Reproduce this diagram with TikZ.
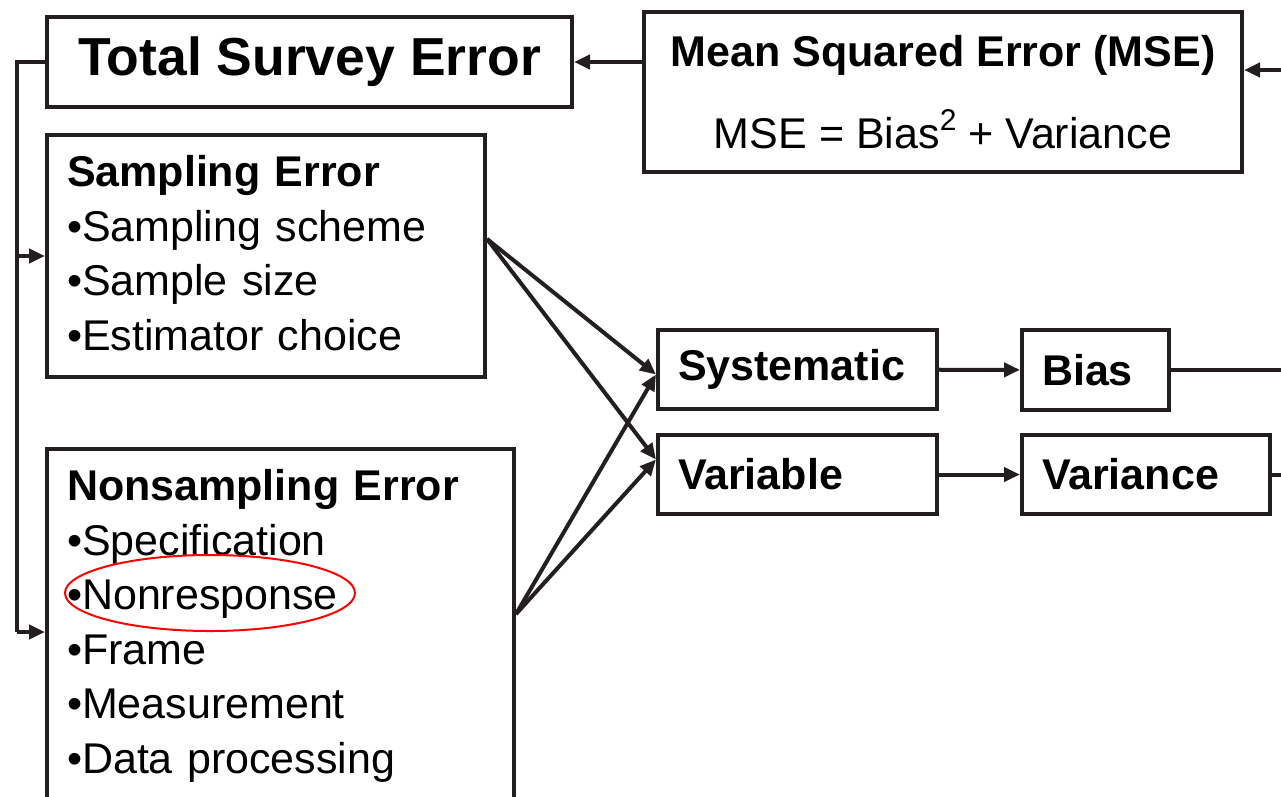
\documentclass[tikz,border=0pt]{standalone}
\usepackage{fontspec}
\setmainfont{Liberation Sans}
\usetikzlibrary{arrows.meta}
\definecolor{ink}{HTML}{231F20}
\tikzset{
	box/.style={draw=ink, line width=4pt, inner xsep=20pt, inner ysep=0pt, anchor=north west, align=left},
	wire/.style={draw=ink, line width=4pt},
	link/.style={wire, -{Triangle[length=16pt,width=14pt]}},
	txt/.style={font=\fontsize{43}{54.5}\selectfont},
}
\begin{document}
\begin{tikzpicture}[x=1pt,y=-1pt]
	\useasboundingbox (0,0) rectangle (1281,796);
	\clip (0,0) rectangle (1281,796);
	% boxes
	\node[box, align=center, minimum width=525pt, minimum height=90pt, font=\fontsize{53.5}{60}\selectfont\bfseries] (tse) at (45,15) {Total Survey Error};
	\node[box, align=center, minimum width=598pt, minimum height=160pt, font=\fontsize{43}{82}\selectfont] (mse) at (642,10)
		{\textbf{Mean Squared Error (MSE)}\\MSE = Bias\raisebox{0.42em}{\fontsize{30}{30}\selectfont 2} + Variance};
	\node[box, txt, text width=398pt, minimum height=242pt] (samp) at (45,133)
		{\textbf{Sampling Error}\\•Sampling scheme\\•Sample size\\•Estimator choice\vspace{6pt}};
	\node[box, txt, text width=427pt, minimum height=354pt] (nons) at (45,447)
		{\textbf{Nonsampling Error}\\•Specification\\•Nonresponse\\•Frame\\•Measurement\\•Data processing};
	\node[box, txt, font=\fontsize{43}{54.5}\selectfont\bfseries, text width=239pt, minimum height=79pt] (syst) at (656,328) {Systematic};
	\node[box, txt, font=\fontsize{43}{54.5}\selectfont\bfseries, text width=239pt, minimum height=79pt] (var) at (656,433) {Variable};
	\node[box, txt, font=\fontsize{43}{54.5}\selectfont\bfseries, text width=107pt, minimum height=80pt] (bias) at (1020,328) {Bias};
	\node[box, txt, font=\fontsize{43}{54.5}\selectfont\bfseries, text width=208pt, minimum height=79pt] (vari) at (1020,433) {Variance};
	\coordinate (bus) at (17,0);
	\coordinate (edge) at (1295,0);
	\coordinate (mseIn) at (1295,70);
	\coordinate (nonsIn) at ([yshift=-6pt]nons.west);
	% connectors
	\draw[link] (mse.west |- tse.east) -- (tse.east);
	\draw[link] (mseIn) -- (mseIn -| mse.east);
	\draw[wire] (tse.west) -- (tse.west -| bus) -- (nonsIn -| bus);
	\draw[link] (samp.west -| bus) -- (samp.west);
	\draw[link] (nonsIn -| bus) -- (nonsIn);
	\draw[link] ([yshift=17pt]samp.east) -- ([yshift=-5pt]syst.west);
	\draw[link] ([yshift=17pt]samp.east) -- ([yshift=15pt]var.west);
	\draw[link] ([yshift=12pt]nons.east) -- ([yshift=-5pt]syst.west);
	\draw[link] ([yshift=12pt]nons.east) -- ([yshift=15pt]var.west);
	\draw[link] (syst) -- (bias);
	\draw[link] (var) -- (vari);
	\draw[wire] (bias.east) -- (bias.east -| edge);
	\draw[wire] (vari.east) -- (vari.east -| edge);
	% highlight
	\draw[red, line width=2pt] (210,593) ellipse (145 and 38);
\end{tikzpicture}
\end{document}
